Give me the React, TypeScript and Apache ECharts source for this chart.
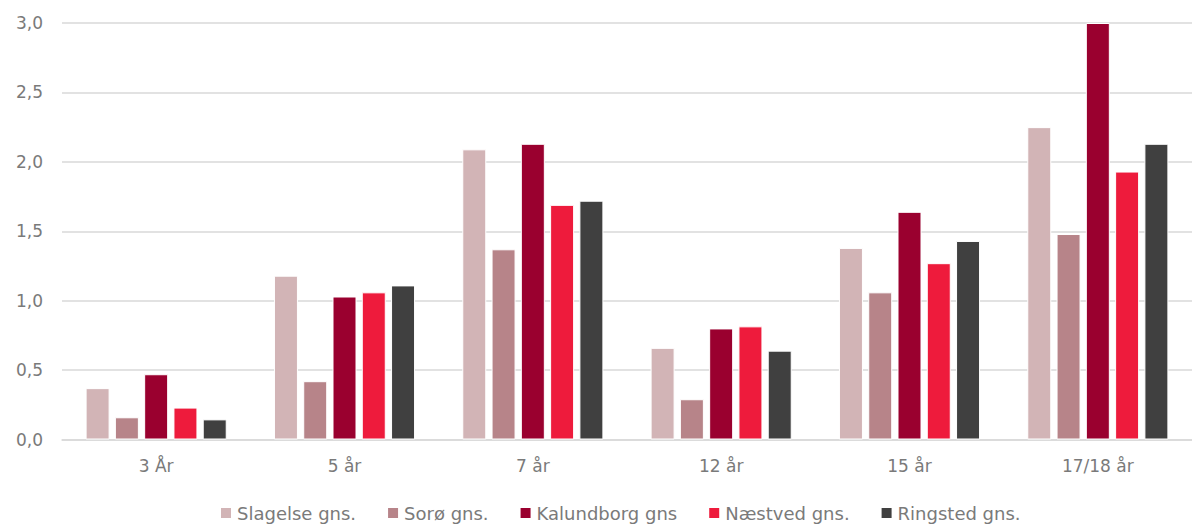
import React, { useEffect, useRef } from "react";
import * as echarts from "echarts";

const categories = ["3 År", "5 år", "7 år", "12 år", "15 år", "17/18 år"];
const seriesNames = ["Slagelse gns.", "Sorø gns.", "Kalundborg gns", "Næstved gns.", "Ringsted gns."];
const slagelse = [0.37, 1.18, 2.09, 0.66, 1.38, 2.25];
const soroe = [0.16, 0.42, 1.37, 0.29, 1.06, 1.48];
const kalundborg = [0.47, 1.03, 2.13, 0.8, 1.64, 3.0];
const naestved = [0.23, 1.06, 1.69, 0.815, 1.27, 1.93];
const ringsted = [0.145, 1.11, 1.72, 0.64, 1.43, 2.13];
const colors = ["#D2B4B6", "#B78489", "#9A002F", "#EE1B3C", "#404040"];

export default function App() {
  const ref = useRef<HTMLDivElement>(null);
  useEffect(() => {
    const chart = echarts.init(ref.current!, null, { renderer: "svg" });
    const values = [slagelse, soroe, kalundborg, naestved, ringsted];
    const font = "DejaVu Sans";
    chart.setOption({
      animation: false,
      color: colors,
      grid: { left: 62, right: 0, top: 23, bottom: 85.5, containLabel: false },
      legend: {
        left: 214,
        top: 499,
        itemWidth: 12,
        itemHeight: 12,
        itemGap: 30,
        icon: "rect",
        textStyle: { color: "#7a7a7a", fontSize: 18, fontFamily: font },
        data: seriesNames,
      },
      xAxis: {
        type: "category",
        data: categories,
        axisLine: { lineStyle: { color: "#d9d9d9", width: 1.5 } },
        axisTick: { show: false },
        axisLabel: { color: "#7a7a7a", fontSize: 17, fontFamily: font, margin: 18 },
      },
      yAxis: {
        type: "value",
        min: 0,
        max: 3,
        interval: 0.5,
        axisLine: { show: false },
        axisTick: { show: false },
        splitLine: { lineStyle: { color: "#d9d9d9", width: 1.5 } },
        axisLabel: {
          color: "#7a7a7a",
          fontSize: 17,
          fontFamily: font,
          margin: 19,
          formatter: (v: number) => v.toFixed(1).replace(".", ","),
        },
      },
      series: seriesNames.map((name, i) => ({
        name,
        type: "bar",
        data: values[i],
        barWidth: 24,
        barGap: "22%",
        itemStyle: { color: colors[i], borderColor: "#ffffff", borderWidth: 1 },
      })),
    });
    return () => chart.dispose();
  }, []);
  return (
    <div
      ref={ref}
      style={{ position: "absolute", left: 0, top: 0, width: 1192, height: 525, background: "#fff" }}
    />
  );
}
